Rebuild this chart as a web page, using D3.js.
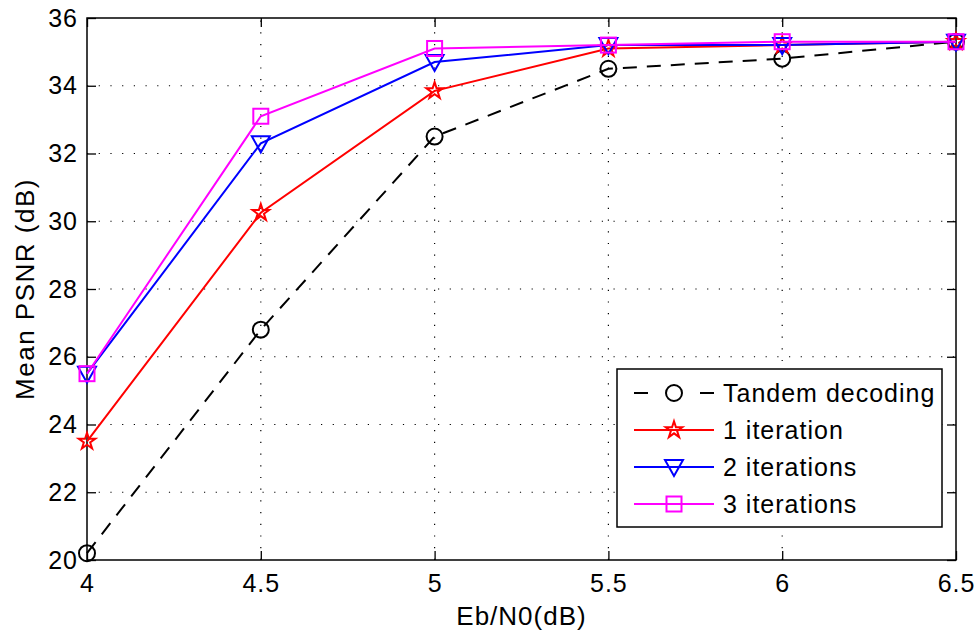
<!DOCTYPE html>
<html>
<head>
<meta charset="utf-8">
<script src="https://cdn.jsdelivr.net/npm/d3@7"></script>
<style>
  body { margin: 0; background: #fff; }
  svg { display: block; font-family: "Liberation Sans", Arial, Helvetica, sans-serif; }
</style>
</head>
<body>
<svg id="chart" width="976" height="632"></svg>
<script>
// Eb/N0 sweep and mean PSNR for each decoder configuration
const ebn0 = [4, 4.5, 5, 5.5, 6, 6.5];
const tandem = [20.2, 26.8, 32.5, 34.5, 34.8, 35.3];
const iter1 = [23.5, 30.25, 33.85, 35.1, 35.2, 35.3];
const iter2 = [25.5, 32.3, 34.7, 35.2, 35.2, 35.3];
const iter3 = [25.5, 33.1, 35.1, 35.2, 35.3, 35.3];
const seriesNames = ["Tandem decoding", "1 iteration", "2 iterations", "3 iterations"];
const xTicks = [4, 4.5, 5, 5.5, 6, 6.5];
const yTicks = [20, 22, 24, 26, 28, 30, 32, 34, 36];

const series = [
  { name: seriesNames[0], values: tandem, color: "#000000", marker: "circle", dash: "14,10" },
  { name: seriesNames[1], values: iter1, color: "#ff0000", marker: "star", dash: null },
  { name: seriesNames[2], values: iter2, color: "#0000ff", marker: "triangle", dash: null },
  { name: seriesNames[3], values: iter3, color: "#ff00ff", marker: "square", dash: null }
];

const svg = d3.select("#chart");
const plotL = 87, plotR = 956, plotT = 18, plotB = 560;
const x = d3.scaleLinear().domain([4, 6.5]).range([plotL, plotR]);
const y = d3.scaleLinear().domain([20, 36]).range([plotB, plotT]);

// dotted grid
const grid = svg.append("g").attr("stroke", "#000").attr("stroke-width", 1.2)
  .attr("stroke-dasharray", "1.2,10.5");
grid.selectAll(".gx").data(xTicks.slice(1, -1)).join("line")
  .attr("x1", d => x(d)).attr("x2", d => x(d)).attr("y1", plotB).attr("y2", plotT);
grid.selectAll(".gy").data(yTicks.slice(1, -1)).join("line")
  .attr("y1", d => y(d)).attr("y2", d => y(d)).attr("x1", plotL).attr("x2", plotR);

// axes with inward ticks on all four sides
const tickLen = 9;
const fmt = d => String(d);
svg.append("g").attr("transform", `translate(0,${plotB})`)
  .call(d3.axisBottom(x).tickValues(xTicks).tickSizeInner(-tickLen).tickSizeOuter(0).tickPadding(14).tickFormat(fmt));
svg.append("g").attr("transform", `translate(0,${plotT})`)
  .call(d3.axisTop(x).tickValues(xTicks).tickSizeInner(-tickLen).tickSizeOuter(0).tickFormat(""));
svg.append("g").attr("transform", `translate(${plotL},0)`)
  .call(d3.axisLeft(y).tickValues(yTicks).tickSizeInner(-tickLen).tickSizeOuter(0).tickPadding(9).tickFormat(fmt));
svg.append("g").attr("transform", `translate(${plotR},0)`)
  .call(d3.axisRight(y).tickValues(yTicks).tickSizeInner(-tickLen).tickSizeOuter(0).tickFormat(""));
svg.selectAll(".domain").remove();
svg.selectAll(".tick line").attr("stroke", "#000").attr("stroke-width", 1.3);
svg.selectAll(".tick text").attr("font-size", 25).attr("letter-spacing", 1).attr("fill", "#000")
  .attr("font-family", "'Liberation Sans', Arial, sans-serif");

svg.append("rect").attr("x", plotL).attr("y", plotT).attr("width", plotR - plotL).attr("height", plotB - plotT)
  .attr("fill", "none").attr("stroke", "#000").attr("stroke-width", 1.5);

// axis titles
svg.append("text").attr("x", (plotL + plotR) / 2).attr("y", 625).attr("text-anchor", "middle")
  .attr("font-size", 26).attr("letter-spacing", 1).text("Eb/N0(dB)");
svg.append("text").attr("transform", `translate(34,${(plotT + plotB) / 2}) rotate(-90)`)
  .attr("text-anchor", "middle").attr("font-size", 26).attr("letter-spacing", 1.5).text("Mean PSNR (dB)");

// marker shapes
function drawMarker(g, type, color) {
  if (type === "circle") {
    g.append("circle").attr("r", 8).attr("fill", "none").attr("stroke", color).attr("stroke-width", 2);
  } else if (type === "star") {
    g.append("path").attr("d", d3.symbol(d3.symbolStar, 85)()).attr("fill", "none")
      .attr("stroke", color).attr("stroke-width", 2);
  } else if (type === "triangle") {
    g.append("path").attr("d", "M-9,-7L9,-7L0,9Z").attr("fill", "none")
      .attr("stroke", color).attr("stroke-width", 2);
  } else if (type === "square") {
    g.append("rect").attr("x", -7.5).attr("y", -7.5).attr("width", 15).attr("height", 15)
      .attr("fill", "none").attr("stroke", color).attr("stroke-width", 2);
  }
}

const line = d3.line().x((d, i) => x(ebn0[i])).y(d => y(d));
series.forEach(s => {
  const g = svg.append("g");
  g.append("path").datum(s.values).attr("d", line).attr("fill", "none")
    .attr("stroke", s.color).attr("stroke-width", 2)
    .attr("stroke-dasharray", s.dash);
  s.values.forEach((v, i) => {
    const m = g.append("g").attr("transform", `translate(${x(ebn0[i])},${y(v)})`);
    drawMarker(m, s.marker, s.color);
  });
});

// legend
const lg = svg.append("g");
lg.append("rect").attr("x", 617).attr("y", 369).attr("width", 325).attr("height", 158)
  .attr("fill", "#fff").attr("stroke", "#000").attr("stroke-width", 1.5);
series.forEach((s, i) => {
  const cy = 393 + i * 37;
  if (s.dash) {
    lg.append("line").attr("x1", 634).attr("x2", 648).attr("y1", cy).attr("y2", cy)
      .attr("stroke", s.color).attr("stroke-width", 2);
    lg.append("line").attr("x1", 700).attr("x2", 714).attr("y1", cy).attr("y2", cy)
      .attr("stroke", s.color).attr("stroke-width", 2);
  } else {
    lg.append("line").attr("x1", 634).attr("x2", 714).attr("y1", cy).attr("y2", cy)
      .attr("stroke", s.color).attr("stroke-width", 2);
  }
  const m = lg.append("g").attr("transform", `translate(674,${cy})`);
  drawMarker(m, s.marker, s.color);
  lg.append("text").attr("x", 723).attr("y", cy + 9).attr("font-size", 25).attr("letter-spacing", 1)
    .text(s.name);
});
</script>
</body>
</html>
